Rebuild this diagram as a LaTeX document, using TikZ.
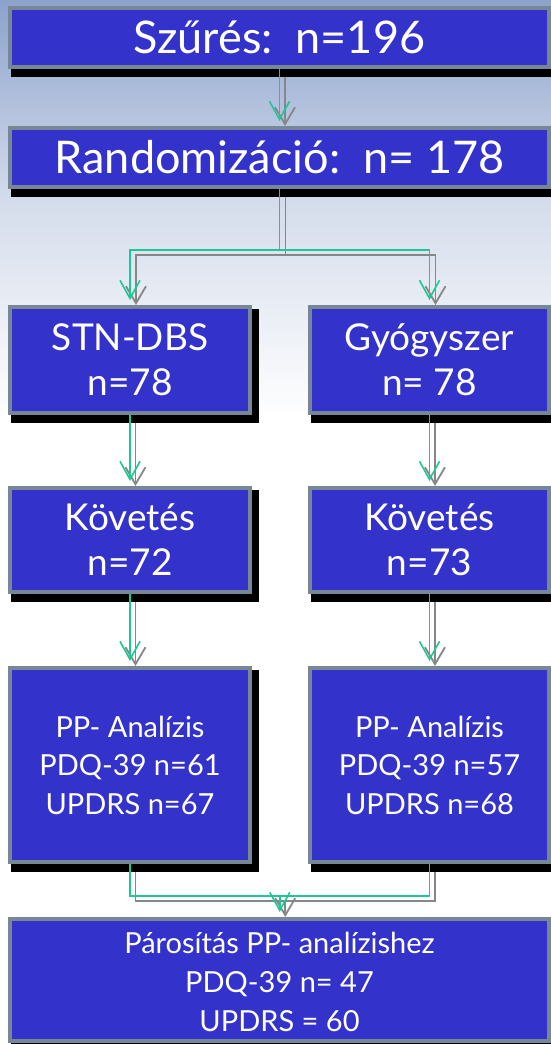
\documentclass[tikz,border=0pt]{standalone}
\usepackage{fontspec}
\setmainfont{Lato}
\usetikzlibrary{arrows.meta,calc}
\pgfdeclarelayer{bg}
\pgfdeclarelayer{shadowlayer}
\pgfsetlayers{bg,shadowlayer,main}
\definecolor{boxblue}{RGB}{51,51,204}
\definecolor{boxedge}{RGB}{120,135,150}
\definecolor{lnkgreen}{RGB}{30,200,150}
\definecolor{lnkgray}{RGB}{135,135,135}
\definecolor{bgtop}{RGB}{140,162,205}
\definecolor{bgmid}{RGB}{212,220,235}
\begin{document}
\begin{tikzpicture}[x=1pt,y=-1pt,
  flowbox/.style={draw=boxedge, fill=boxblue, line width=4pt, inner sep=0pt, text=white, align=center},
  bigtxt/.style={font=\fontsize{45}{52}\selectfont, text height=32pt, text depth=0pt},
  midtxt/.style={font=\fontsize{37}{45}\selectfont, text height=71.5pt, text depth=0pt},
  smalltxt/.style={font=\fontsize{29}{38.5}\selectfont, text height=98pt, text depth=0pt},
  lasttxt/.style={font=\fontsize{29}{39}\selectfont, text height=103pt, text depth=0pt},
  gline/.style={draw=lnkgreen, line width=1.6pt},
  garrow/.style={gline, -{Straight Barb[length=18pt,width=20pt]}, shorten >=5pt},
  grline/.style={draw=lnkgray, line width=1.8pt},
  grarrow/.style={grline, -{Straight Barb[length=17pt,width=20pt]}}
]
\useasboundingbox (0,0) rectangle (551,1044);
\begin{pgfonlayer}{bg}
  \shade[top color=bgtop, bottom color=bgmid] (0,0) rectangle (551,200);
  \shade[top color=bgmid, bottom color=white] (0,199.5) rectangle (551,420);
  \fill[white] (0,419.5) rectangle (551,1044);
\end{pgfonlayer}

% boxes
\node[flowbox, bigtxt, minimum width=539pt, minimum height=59pt] (szures) at (279.5,37.5) {Szűrés:\ \ n=196};
\node[flowbox, bigtxt, minimum width=539pt, minimum height=59pt] (rand) at (279.5,157.5) {Randomizáció:\ \ n= 178};
\node[flowbox, midtxt, minimum width=240pt, minimum height=106pt] (stn) at (130,360) {STN-DBS\\n=78};
\node[flowbox, midtxt, minimum width=239pt, minimum height=106pt] (gyogy) at (429.5,360) {Gyógyszer\\n= 78};
\node[flowbox, midtxt, minimum width=240pt, minimum height=104pt] (kovL) at (130,540) {Követés\\n=72};
\node[flowbox, midtxt, minimum width=239pt, minimum height=104pt] (kovR) at (429.5,540) {Követés\\n=73};
\node[flowbox, smalltxt, minimum width=240pt, minimum height=194pt] (ppL) at (130,765) {PP- Analízis\\PDQ-39 n=61\\UPDRS n=67};
\node[flowbox, smalltxt, minimum width=239pt, minimum height=194pt] (ppR) at (429.5,765) {PP- Analízis\\PDQ-39 n=57\\UPDRS n=68};
\node[flowbox, lasttxt, minimum width=539pt, minimum height=122pt] (paros) at (279.5,980) {Párosítás PP- analízishez\\PDQ-39 n= 47\\UPDRS = 60};

% shadows
\begin{pgfonlayer}{shadowlayer}
  \foreach \n in {szures,rand,stn,gyogy,kovL,kovR,ppL,ppR,paros}
    \fill[black] ($(\n.south west)+(3,8)$) rectangle ($(\n.north east)+(7,4)$);
\end{pgfonlayer}

% gray (offset) connectors
\draw[grarrow] ($(szures.south)+(5.5,8)$) -- ($(rand.north)+(5.5,0)$);
\coordinate (rsplit) at ($(rand.south)+(6,66)$);
\draw[grline] ($(rand.south)+(6,8)$) -- (rsplit);
\draw[grarrow] (rsplit) -| ($(stn.north)+(6,0)$);
\draw[grarrow] (rsplit) -| ($(gyogy.north)+(6,0)$);
\draw[grarrow] ($(stn.south)+(5.5,8)$) -- ($(kovL.north)+(5.5,0)$);
\draw[grarrow] ($(gyogy.south)+(5.5,8)$) -- ($(kovR.north)+(5.5,0)$);
\draw[grarrow] ($(kovL.south)+(5.5,8)$) -- ($(ppL.north)+(5.5,0)$);
\draw[grarrow] ($(kovR.south)+(5.5,8)$) -- ($(ppR.north)+(5.5,0)$);
\coordinate (gmr) at ($(ppL.south)!0.5!(ppR.south)+(5.5,37)$);
\draw[grline] ($(ppL.south)+(5.5,8)$) |- (gmr) -| ($(ppR.south)+(5.5,8)$);
\draw[grarrow] (gmr) -- (gmr |- paros.north);

% green connectors
\draw[garrow] (szures.south) -- (rand.north);
\coordinate (gsplit) at ($(rand.south)+(0,61)$);
\draw[gline] (rand.south) -- (gsplit);
\draw[garrow] (gsplit) -| (stn.north);
\draw[garrow] (gsplit) -| (gyogy.north);
\draw[garrow] (stn.south) -- (kovL.north);
\draw[garrow] (gyogy.south) -- (kovR.north);
\draw[garrow] (kovL.south) -- (ppL.north);
\draw[garrow] (kovR.south) -- (ppR.north);
\coordinate (gm) at ($(ppL.south)!0.5!(ppR.south)+(0,32)$);
\draw[gline] (ppL.south) |- (gm) -| (ppR.south);
\draw[garrow] (gm) -- (gm |- paros.north);
\end{tikzpicture}
\end{document}
